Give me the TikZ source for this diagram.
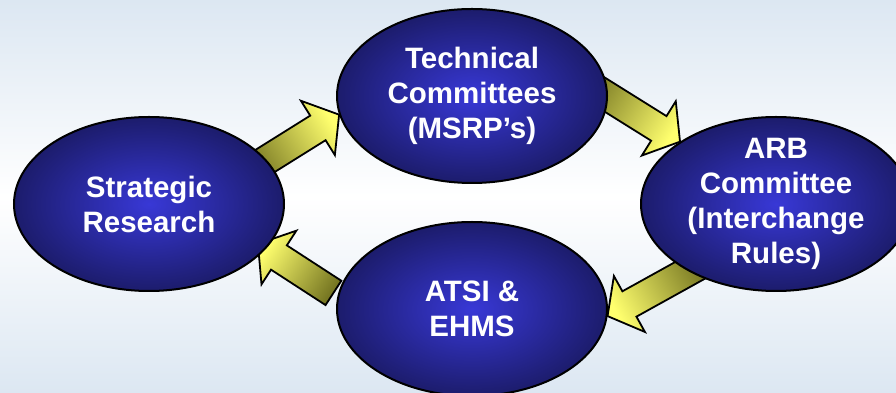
\documentclass[tikz,border=0pt]{standalone}
\usepackage{fontspec}
\setmainfont{Liberation Sans}
\usetikzlibrary{shapes.geometric,positioning,calc}
\definecolor{navy}{RGB}{28,28,108}
\definecolor{midblue}{RGB}{56,56,214}
\definecolor{headyellow}{RGB}{255,255,110}
\definecolor{tailolive}{RGB}{118,118,34}
\definecolor{bgblue}{RGB}{220,231,242}
\pgfdeclarelayer{back}
\pgfdeclarelayer{arrows}
\pgfsetlayers{back,arrows,main}
% fat arrow: tip, direction, length
\newcommand{\fatarrow}[3]{%
	\begin{scope}[shift={(#1)},rotate=#2]
		\pgfmathsetmacro{\shadeang}{#2-90}
		\draw[fat,shading angle=\shadeang] (0,0) -- (-25,32) -- (-25,14.5) -- (-#3,14.5) -- (-#3,-14.5) -- (-25,-14.5) -- (-25,-32) -- cycle;
	\end{scope}}

\begin{document}
\begin{tikzpicture}[x=1pt,y=1pt,% List of styles, sizes in pt like the picture
			bubble/.style={
				ellipse,draw=black,line width=2pt,
				inner color=midblue,outer color=navy,
				minimum width=270pt,minimum height=174pt,
				inner sep=0pt  % text sits in a label so it does not grow the ellipse
			},
			txt/.style={text=white,align=center,font=\bfseries\fontsize{29.5}{35}\selectfont},
			fat/.style={draw=black,line width=1.8pt,top color=headyellow,bottom color=tailolive}
		]
		\useasboundingbox (0,0) rectangle (896,393);
		\begin{pgfonlayer}{back}
			\fill[top color=bgblue,bottom color=bgblue,middle color=white] (0,0) rectangle (896,393);
		\end{pgfonlayer}
		\node[bubble,label={[txt]center:{Strategic\\Research}}](E1) at (149,189) {};
		\node[bubble,label={[txt]center:{Technical\\Committees\\(MSRP’s)}}](E2) at (472,297) {};
		\node[bubble,label={[txt]center:{ARB\\Committee\\(Interchange\\Rules)}}](E3) at (776,189) {};
		\node[bubble,label={[txt]center:{ATSI \&\\EHMS}}](E4)[below=37pt of E2] {};
		\begin{pgfonlayer}{arrows}
			\fatarrow{E2.188}{32}{105}
			\fatarrow{E3.147}{-32}{112}
			\fatarrow{E4.-3}{209}{110}
			\fatarrow{$(E1.-21)+(-8,5)$}{147}{90}
		\end{pgfonlayer}
	\end{tikzpicture}
\end{document}
